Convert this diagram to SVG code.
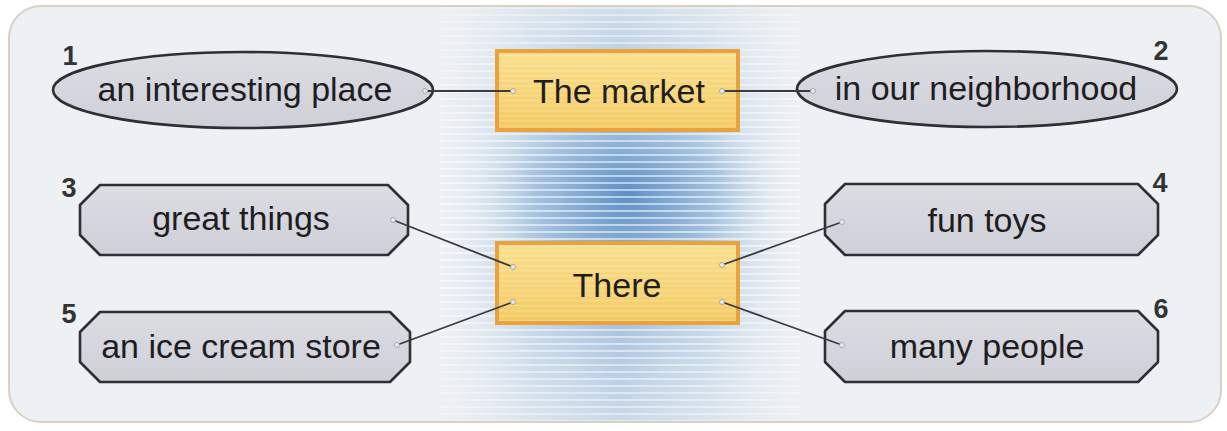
<svg xmlns="http://www.w3.org/2000/svg" width="1227" height="431" viewBox="0 0 1227 431">
  <defs>
    <linearGradient id="band" x1="0" y1="0" x2="1" y2="0">
      <stop offset="0" stop-color="#c9dbea" stop-opacity="0"/>
      <stop offset="0.25" stop-color="#a9c6e0" stop-opacity="0.75"/>
      <stop offset="0.5" stop-color="#86acd4" stop-opacity="0.9"/>
      <stop offset="0.75" stop-color="#a9c6e0" stop-opacity="0.75"/>
      <stop offset="1" stop-color="#c9dbea" stop-opacity="0"/>
    </linearGradient>
    <radialGradient id="spot" cx="0.5" cy="0.5" r="0.5">
      <stop offset="0" stop-color="#4f86c0" stop-opacity="0.8"/>
      <stop offset="0.6" stop-color="#82aad4" stop-opacity="0.4"/>
      <stop offset="1" stop-color="#c9dbea" stop-opacity="0"/>
    </radialGradient>
    <linearGradient id="vfade" x1="0" y1="0" x2="0" y2="1">
      <stop offset="0" stop-color="#fff" stop-opacity="0.3"/>
      <stop offset="0.4" stop-color="#fff" stop-opacity="1"/>
      <stop offset="0.6" stop-color="#fff" stop-opacity="1"/>
      <stop offset="1" stop-color="#fff" stop-opacity="0.35"/>
    </linearGradient>
    <mask id="bandMask">
      <rect x="0" y="0" width="1227" height="431" fill="url(#vfade)"/>
    </mask>
    <pattern id="stripes" x="0" y="0" width="10" height="7" patternUnits="userSpaceOnUse">
      <rect x="0" y="0" width="10" height="2" fill="#ffffff" fill-opacity="0.55"/>
    </pattern>
    <linearGradient id="yellow" x1="0" y1="0" x2="0" y2="1">
      <stop offset="0" stop-color="#f9df8e"/>
      <stop offset="1" stop-color="#f3cb63"/>
    </linearGradient>
    <pattern id="ystripes" x="0" y="0" width="10" height="5" patternUnits="userSpaceOnUse">
      <rect x="0" y="0" width="10" height="1.5" fill="#ffffff" fill-opacity="0.18"/>
    </pattern>
    <linearGradient id="grey" x1="0" y1="0" x2="0" y2="1">
      <stop offset="0" stop-color="#dcdce3"/>
      <stop offset="1" stop-color="#cfcfd8"/>
    </linearGradient>
    <clipPath id="frameClip">
      <rect x="9" y="6" width="1212" height="416" rx="32"/>
    </clipPath>
  </defs>
  <style>
    .oval { fill: url(#grey); stroke: #2e2e33; stroke-width: 2.6; }
    .oct { fill: url(#grey); stroke: #2e2e33; stroke-width: 2.6; stroke-linejoin: round; }
    .box { fill: url(#yellow); stroke: #eaa33c; stroke-width: 4; }
    .lbl { font-family: "Liberation Sans", Arial, sans-serif; font-size: 34px; fill: #1e1e1e; text-anchor: middle; }
    .num { font-family: "Liberation Sans", Arial, sans-serif; font-size: 27px; font-weight: bold; fill: #333; text-anchor: middle; }
    .conn line { stroke: #3a3a40; stroke-width: 1.8; }
    .conn circle { fill: #e8e8ee; stroke: #9a9aa2; stroke-width: 0.8; }
  </style>

  <rect x="0" y="0" width="1227" height="431" fill="#ffffff"/>
  <g id="frame">
    <rect x="9" y="6" width="1212" height="416" rx="32" fill="#eef1f4"/>
    <g clip-path="url(#frameClip)">
      <g mask="url(#bandMask)">
        <rect x="440" y="6" width="360" height="416" fill="url(#band)"/>
        <ellipse cx="628" cy="195" rx="150" ry="120" fill="url(#spot)"/>
        <rect x="440" y="6" width="360" height="416" fill="url(#stripes)"/>
      </g>
    </g>
    <rect x="9" y="6" width="1212" height="416" rx="32" fill="none" stroke="#d9d0c1" stroke-width="2"/>
  </g>

  <g id="node1">
    <ellipse class="oval" cx="243" cy="90" rx="190" ry="38"/>
    <text class="lbl" x="245" y="101">an interesting place</text>
    <text class="num" x="70" y="65">1</text>
  </g>

  <g id="node2">
    <ellipse class="oval" cx="987" cy="89" rx="190" ry="38"/>
    <text class="lbl" x="986" y="100">in our neighborhood</text>
    <text class="num" x="1161" y="60">2</text>
  </g>

  <g id="market">
    <rect class="box" x="497" y="51" width="241" height="79"/>
    <rect x="499" y="53" width="237" height="75" fill="url(#ystripes)"/>
    <text class="lbl" x="619" y="103">The market</text>
  </g>

  <g id="there">
    <rect class="box" x="497" y="243" width="241" height="80"/>
    <rect x="499" y="245" width="237" height="76" fill="url(#ystripes)"/>
    <text class="lbl" x="617" y="297">There</text>
  </g>

  <g id="node3">
    <polygon class="oct" points="100,185 388,185 408,205 408,235 388,255 100,255 80,235 80,205"/>
    <text class="lbl" x="241" y="230">great things</text>
    <text class="num" x="69" y="197">3</text>
  </g>

  <g id="node5">
    <polygon class="oct" points="100,312 390,312 410,332 410,362 390,382 100,382 80,362 80,332"/>
    <text class="lbl" x="241" y="358">an ice cream store</text>
    <text class="num" x="69" y="323">5</text>
  </g>

  <g id="node4">
    <polygon class="oct" points="845,184 1138,184 1158,204 1158,235 1138,255 845,255 825,235 825,204"/>
    <text class="lbl" x="987" y="232">fun toys</text>
    <text class="num" x="1160" y="192">4</text>
  </g>

  <g id="node6">
    <polygon class="oct" points="845,311 1138,311 1158,331 1158,362 1138,382 845,382 825,362 825,331"/>
    <text class="lbl" x="987" y="358">many people</text>
    <text class="num" x="1161" y="318">6</text>
  </g>

  <g id="connectors" class="conn">
    <line x1="425" y1="91" x2="513" y2="91"/>
    <line x1="722" y1="91" x2="813" y2="91"/>
    <line x1="393" y1="220" x2="513" y2="267"/>
    <line x1="397" y1="345" x2="513" y2="302"/>
    <line x1="842" y1="222" x2="722" y2="265"/>
    <line x1="842" y1="345" x2="722" y2="302"/>
    <circle cx="425" cy="91" r="2.5"/>
    <circle cx="513" cy="91" r="2.5"/>
    <circle cx="722" cy="91" r="2.5"/>
    <circle cx="813" cy="91" r="2.5"/>
    <circle cx="393" cy="220" r="2.5"/>
    <circle cx="513" cy="267" r="2.5"/>
    <circle cx="397" cy="345" r="2.5"/>
    <circle cx="513" cy="302" r="2.5"/>
    <circle cx="842" cy="222" r="2.5"/>
    <circle cx="722" cy="265" r="2.5"/>
    <circle cx="842" cy="345" r="2.5"/>
    <circle cx="722" cy="302" r="2.5"/>
  </g>
</svg>
